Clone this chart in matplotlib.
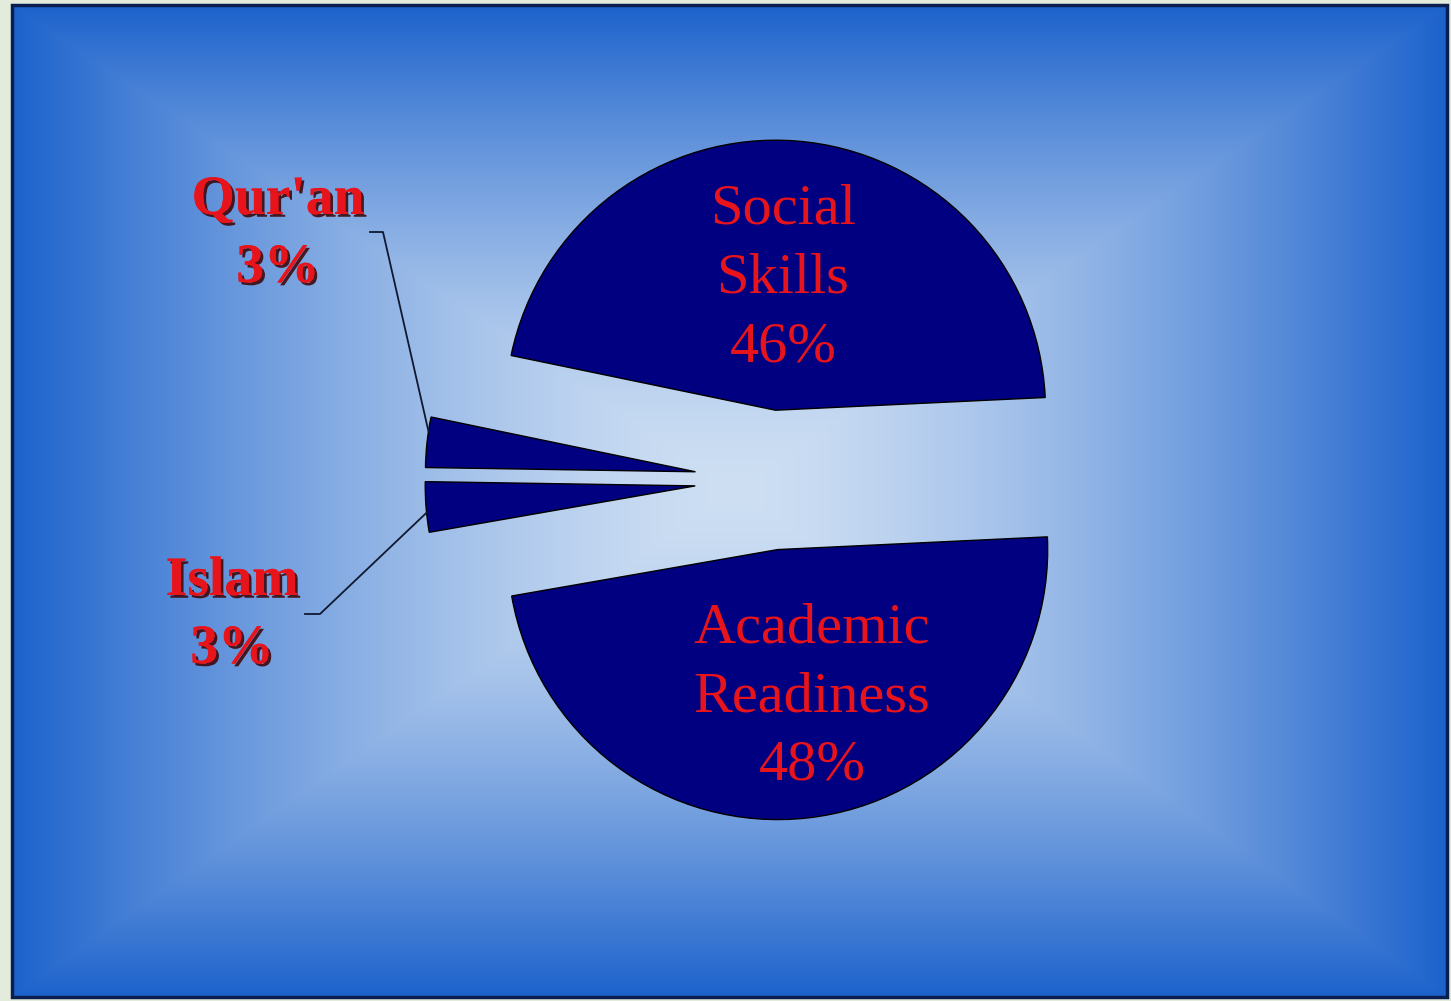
import numpy as np
import matplotlib.pyplot as plt
from matplotlib import patheffects

# chart data
names = ["Social\nSkills", "Qur'an", "Islam", "Academic\nReadiness"]
shares = [46, 3, 3, 48]
pct_text = ["46%", "3%", "3%", "48%"]

W, H = 1451, 1001
fig = plt.figure(figsize=(W / 100, H / 100), dpi=100)
fig.patch.set_facecolor('#e2ebdc')
ax = fig.add_axes([0, 0, 1, 1])

# rectangular "from centre" gradient background
x0, x1, y0, y1 = 12, 1447, 4, 996
cx, cy = 735, 511
xs = np.linspace(x0, x1, 700)
ys = np.linspace(y0, y1, 480)
X, Y = np.meshgrid(xs, ys)
tx = np.where(X > cx, (X - cx) / (x1 - cx), (cx - X) / (cx - x0))
ty = np.where(Y > cy, (Y - cy) / (y1 - cy), (cy - Y) / (cy - y0))
t = np.clip(np.maximum(tx, ty), 0, 1) ** 1.5
inner = np.array([206, 223, 243]) / 255
outer = np.array([28, 98, 204]) / 255
img = inner[None, None, :] * (1 - t[..., None]) + outer[None, None, :] * t[..., None]
ax.imshow(img, extent=(x0, x1, y0, y1), origin='lower', aspect='auto', zorder=0)
ax.add_patch(plt.Rectangle((x0, y0), x1 - x0, y1 - y0, fill=False,
                           edgecolor='#0a1f50', linewidth=2.5, zorder=1))

# pie
center = (770, 521)
radius = 270
explode = [70, 75, 75, 70]
wedges, _ = ax.pie(shares, radius=radius, center=center, startangle=2.7,
                   explode=explode, colors=['#000080'] * 4, frame=True,
                   wedgeprops=dict(edgecolor='black', linewidth=1, zorder=2))

red = '#e8141c'
serif = 'Liberation Serif'

# labels inside the big slices
for i, frac in [(0, 0.49), (3, 0.55)]:
    w = wedges[i]
    mid = np.deg2rad((w.theta1 + w.theta2) / 2)
    px = w.center[0] + frac * radius * np.cos(mid) + (-3 if i == 0 else 18)
    py = w.center[1] + frac * radius * np.sin(mid)
    ax.text(px, py, names[i] + "\n" + pct_text[i], ha='center', va='center',
            color=red, fontsize=42, family=serif, linespacing=1.42, zorder=3)

# outside labels for the small slices with leader lines
shadow = [patheffects.withSimplePatchShadow(offset=(2, -2), shadow_rgbFace='#3a0000', alpha=0.85),
          patheffects.Normal()]
outside = {1: dict(pos=(278, 767), elbow=[(370, 769), (383, 769)], ang=171.4),
           2: dict(pos=(232, 386), elbow=[(305, 387), (320, 387)], ang=185.7)}
for i, o in outside.items():
    w = wedges[i]
    a = np.deg2rad(o['ang'])
    ex = w.center[0] + radius * np.cos(a)
    ey = w.center[1] + radius * np.sin(a)
    pts = o['elbow'] + [(ex, ey)]
    ax.plot([p[0] for p in pts], [p[1] for p in pts], color='#101830', lw=1.3, zorder=3)
    ax.text(o['pos'][0], o['pos'][1], names[i] + "\n" + pct_text[i], ha='center', va='center',
            color=red, fontsize=40, family=serif, fontweight='bold', linespacing=1.4,
            path_effects=shadow, zorder=3)

ax.set_xlim(0, W)
ax.set_ylim(0, H)
ax.set_aspect('auto')
ax.axis('off')

fig.savefig('out.png', dpi=100, facecolor=fig.get_facecolor())
